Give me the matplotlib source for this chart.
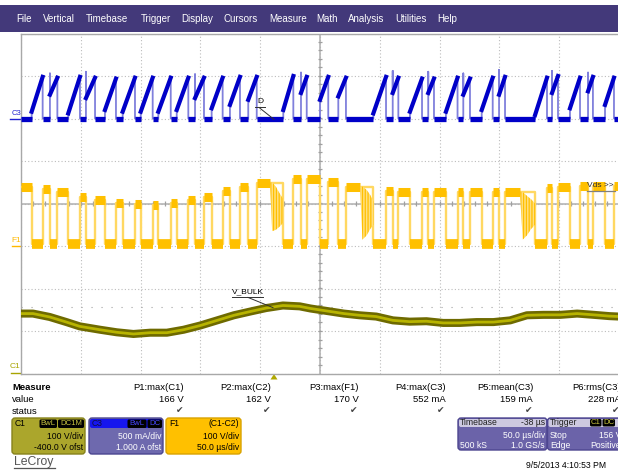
import matplotlib.pyplot as plt
from matplotlib.patches import FancyBboxPatch, Rectangle, Polygon
import numpy as np

plt.rcParams['font.family'] = ['Liberation Sans', 'DejaVu Sans']
plt.rcParams['hatch.linewidth'] = 0.9

# channel settings
c1_vdiv, c1_ofst = 100.0, -400.0     # V/div, V
c3_idiv, c3_ofst = 0.5, 1.0          # A/div, A
f1_vdiv, f1_ofst = 100.0, -100.0     # F1 zero sits one div under centre
tdiv = 50.0                          # us/div
trig_level = 156.0                   # V on C1

# switching pulses, us from left edge of screen
t_on = [8.9, 24.2, 39.5, 54.3, 70.2, 85.0, 100.1, 114.8, 130.2, 145.5,
        159.4, 174.7, 190.0, 219.3, 234.1, 250.0, 265.3, 294.6, 310.8, 325.2,
        340.5, 355.3, 369.8, 385.2, 399.7, 429.8, 444.0, 459.0, 474.1, 488.3]
t_off = [18.1, 30.4, 49.3, 61.9, 79.4, 95.3, 110.1, 125.2, 139.9, 153.0,
         168.6, 183.1, 197.1, 227.7, 238.9, 256.9, 271.7, 305.2, 315.5, 335.3,
         345.3, 365.0, 375.4, 394.4, 404.7, 439.8, 449.0, 467.4, 478.2, 495.8]

# C3 primary current (A)
i_start = [0.08, 0.28, 0.06, 0.24, 0.10, 0.08, 0.08, 0.08, 0.10, 0.24,
           0.12, 0.16, 0.22, 0.10, 0.30, 0.22, 0.26, 0.06, 0.30, 0.08,
           0.30, 0.08, 0.28, 0.10, 0.28, 0.04, 0.30, 0.12, 0.32, 0.16]
i_peak = [0.49, 0.48, 0.49, 0.48, 0.47, 0.48, 0.48, 0.48, 0.48, 0.48,
          0.48, 0.49, 0.49, 0.50, 0.49, 0.49, 0.48, 0.49, 0.48, 0.47,
          0.47, 0.48, 0.47, 0.48, 0.49, 0.48, 0.50, 0.48, 0.49, 0.48]
i_spike = [0.08, 0.53, 0.06, 0.55, 0.10, 0.08, 0.08, 0.08, 0.10, 0.52,
           0.12, 0.16, 0.22, 0.10, 0.54, 0.22, 0.26, 0.06, 0.56, 0.08,
           0.55, 0.08, 0.53, 0.10, 0.57, 0.04, 0.56, 0.12, 0.54, 0.16]

# F1 (C1-C2) level in the off time before each pulse, last one after
f1_high = [140, 133, 126, 115, 108, 101, 99, 97, 101, 108, 116, 130, 140,
           149, 158, 158, 151, 140, 129, 128, 127, 127, 127, 127, 127, 127,
           136, 139, 141, 141, 141]
f1_low = 5

# ringing at the end of three off times (index of the off time, envelope)
ring_seg = [13, 17, 25]
ring_t = [[208.2, 210, 213, 216, 219.3],
          [283.4, 285.5, 289, 292, 294.6],
          [417.2, 419.5, 423, 426.5, 429.8]]
ring_hi = [[150, 150, 140, 125, 110],
           [140, 140, 132, 120, 105],
           [127, 127, 118, 110, 100]]
ring_lo = [[148, 35, 38, 45, 55],
           [138, 15, 25, 40, 50],
           [125, 15, 25, 40, 50]]

# C1 bulk voltage (V_BULK)
bulk_t = [0, 10, 24, 38, 49, 66, 80, 94, 108, 122, 136, 150, 164, 178, 192,
          205, 219, 233, 242, 256, 270, 283, 297, 311, 325, 339, 353, 367,
          381, 395, 409, 423, 437, 451, 465, 479, 492, 500]
bulk_v = [141, 141, 133, 121, 111, 103, 97, 93, 96, 96, 103, 113, 125, 137,
          146, 154, 160, 158, 153, 147, 141, 137, 134, 125, 122, 123, 119,
          119, 121, 121, 125, 137, 138, 138, 141, 138, 135, 134]

menu_items = ['File', 'Vertical', 'Timebase', 'Trigger', 'Display', 'Cursors',
              'Measure', 'Math', 'Analysis', 'Utilities', 'Help']
menu_x = [16, 43, 86, 141, 181.5, 223.5, 269.5, 316, 348, 395, 437]

meas_names = ['P1:max(C1)', 'P2:max(C2)', 'P3:max(F1)', 'P4:max(C3)',
              'P5:mean(C3)', 'P6:rms(C3)']
meas_vals = ['166 V', '162 V', '170 V', '552 mA', '159 mA', '228 mA']


def c1_div(v):
    return (np.asarray(v, float) + c1_ofst) / c1_vdiv


def c3_div(i):
    return (np.asarray(i, float) + c3_ofst) / c3_idiv


def f1_div(v):
    return (np.asarray(v, float) + f1_ofst) / f1_vdiv


W, H = 618, 470
fig = plt.figure(figsize=(W / 100, H / 100), dpi=100)
fig.patch.set_facecolor('white')

# full-figure pixel axes for the scope chrome
ui = fig.add_axes([0, 0, 1, 1])
ui.set_xlim(0, W)
ui.set_ylim(H, 0)
ui.axis('off')

# graticule
gx0, gx1, gy0, gy1 = 21, 619, 33.5, 373.5
ax = fig.add_axes([gx0 / W, 1 - gy1 / H, (gx1 - gx0) / W, (gy1 - gy0) / H])
ax.set_zorder(2)
ax.set_xlim(0, 10 * tdiv)
ax.set_ylim(-4, 4)
ax.set_xticks(np.arange(0, 10 * tdiv + 1, tdiv))
ax.set_yticks(range(-4, 5))
ax.tick_params(length=0, labelbottom=False, labelleft=False)
ax.grid(True, color='#bcbcbc', ls=(0, (1, 2)), lw=0.8)
for s in ax.spines.values():
    s.set_color('#a8a8a8')
    s.set_linewidth(1)
ax.axhline(0, color='#b0b0b0', lw=1.1)
ax.axvline(5 * tdiv, color='#b0b0b0', lw=1.1)
ax.vlines(np.arange(10, 500, 10), -0.05, 0.05, color='#a0a0a0', lw=0.9)
ax.hlines(np.arange(-3.8, 3.9, 0.2), 248.3, 251.7, color='#a0a0a0', lw=0.9)
ax.axhline(c1_div(trig_level), color='#a0a0a0', lw=0.8, ls=(0, (1, 8)))

# C3 current
xs, ys = [0], [0]
for a, b, i0, i1, sp in zip(t_on, t_off, i_start, i_peak, i_spike):
    xs += [a, a, a, b, b]
    ys += [0, sp, i0, i1, 0]
xs.append(500)
ys.append(0)
ax.plot(xs, c3_div(ys), color='#8080dc', lw=1.3, zorder=3)
prev = 0
for a, b in zip(t_on, t_off):
    ax.plot([prev, a], c3_div([0, 0]), color='#0000c8', lw=3.8,
            solid_capstyle='butt', zorder=4)
    prev = b
ax.plot([prev, 500], c3_div([0, 0]), color='#0000c8', lw=3.8,
        solid_capstyle='butt', zorder=4)
for a, b, i0, i1 in zip(t_on, t_off, i_start, i_peak):
    ax.plot([a, b], c3_div([i0, i1]), color='#0000c8', lw=3.0, zorder=4)

# F1 = C1 - C2
seg_start = [0] + t_off
seg_end = t_on + [500]
ring_of = dict(zip(ring_seg, range(len(ring_seg))))
xs, ys = [], []
for k, (a, b) in enumerate(zip(seg_start, seg_end)):
    xs += [a, b]
    ys += [f1_high[k], f1_high[k]]
    if k < len(t_on):
        xs += [t_on[k], t_off[k]]
        ys += [f1_low, f1_low]
ax.plot(xs, f1_div(ys), color='#ffd862', lw=1.7, zorder=3)
for k, (a, b) in enumerate(zip(seg_start, seg_end)):
    end = ring_t[ring_of[k]][0] if k in ring_of else b
    ax.plot([a, end], f1_div([f1_high[k]] * 2), color='#ffc000', lw=6.5,
            solid_capstyle='butt', zorder=4)
for a, b in zip(t_on, t_off):
    ax.plot([a, b], f1_div([f1_low] * 2), color='#ffc000', lw=7,
            solid_capstyle='butt', zorder=4)
for rt, rh, rl in zip(ring_t, ring_hi, ring_lo):
    ax.fill_between(rt, f1_div(rl), f1_div(rh), facecolor='#ffe080',
                    edgecolor='#ffbf00', hatch='||||||', lw=0, zorder=4)

# C1 bulk voltage
ax.plot(bulk_t, c1_div(bulk_v), color='#6e6a00', lw=5.8, zorder=4,
        solid_capstyle='butt')
ax.plot(bulk_t, c1_div(bulk_v), color='#b8b400', lw=2.0, zorder=5)

# trace labels inside the graticule
ax.text(199.8, 2.40, 'D', fontsize=6, ha='center', va='center', zorder=6)
ax.plot([195.5, 204], [2.26, 2.26], color='#303030', lw=0.7, zorder=6)
ax.plot([199, 211.5], [2.26, 1.98], color='#303030', lw=0.7, zorder=6)
ax.text(189.4, -2.08, 'V_BULK', fontsize=6, ha='center', va='center', zorder=6)
ax.plot([176.4, 202.3], [-2.20, -2.20], color='#303030', lw=0.7, zorder=6)
ax.plot([189.8, 210.7], [-2.21, -2.45], color='#303030', lw=0.7, zorder=6)
ax.text(473.5, 0.42, 'Vds >>', fontsize=6, ha='left', va='center',
        color='#303030', zorder=6)
ax.plot([473.5, 497], [0.29, 0.29], color='#808080', lw=0.9, zorder=6)

# menu bar
ui.add_patch(Rectangle((0, 5), W, 27, fc='#43397a', ec='none'))
for name, x in zip(menu_items, menu_x):
    ui.text(x, 18.5, name, color='white', fontsize=7, ha='left', va='center')

# channel ground markers on the left
ui.text(16, 113.5, 'C3', color='#2020d0', fontsize=5.5, ha='center', va='center')
ui.plot([10, 21], [119, 119], color='#2020d0', lw=1)
ui.text(16.5, 240, 'F1', color='#ffb800', fontsize=6, ha='center', va='center')
ui.plot([12, 21], [245.5, 245.5], color='#ffb800', lw=1)
ui.text(15.5, 367, 'C1', color='#a8a400', fontsize=6, ha='center', va='center')
ui.plot([11, 21], [373, 373], color='#a8a400', lw=1)
ui.add_patch(Polygon([[270.5, 379.5], [277.5, 379.5], [274, 374]],
                     closed=True, fc='#b0a800', ec='none'))

# measurement table (last column runs off the screen, as on the scope)
ui.text(12, 387, 'Measure', fontsize=6.8, fontweight='bold', va='center')
ui.text(12, 399, 'value', fontsize=6.8, va='center')
ui.text(12, 411, 'status', fontsize=6.8, va='center')
for k, (nm, val) in enumerate(zip(meas_names, meas_vals)):
    xr = 184 + 87.3 * k
    ui.text(xr, 387, nm, fontsize=6.8, ha='right', va='center')
    ui.text(xr, 399, val, fontsize=6.8, ha='right', va='center')
    ui.text(xr - 1, 411, '\u2714', fontsize=6.5, ha='right', va='center',
            color='#444444')


def panel(x0, x1, y0, y1, body, border, head=None, head_h=8.5):
    ui.add_patch(FancyBboxPatch((x0, y0), x1 - x0, y1 - y0,
                                boxstyle='round,pad=0,rounding_size=3',
                                fc=body, ec=border, lw=1))
    if head:
        ui.add_patch(FancyBboxPatch((x0 + 1, y0 + 1), x1 - x0 - 2, head_h,
                                    boxstyle='round,pad=0,rounding_size=2',
                                    fc=head, ec='none'))


def tag(x0, x1, text, color, y0=419.5, y1=428):
    ui.add_patch(FancyBboxPatch((x0, y0), x1 - x0, y1 - y0,
                                boxstyle='round,pad=0,rounding_size=1.5',
                                fc='black', ec='none'))
    ui.text((x0 + x1) / 2, (y0 + y1) / 2, text, color=color, fontsize=5.6,
            ha='center', va='center')


fs = 6.2
# C1
panel(12, 85, 418, 454, '#aba62c', '#86821c')
ui.text(15, 423.5, 'C1', fontsize=fs, va='center')
tag(39.5, 57, 'BwL', '#c8c440')
tag(58, 84, 'DC1M', '#c8c440')
ui.text(83, 436.5, '100 V/div', fontsize=fs, ha='right', va='center')
ui.text(83, 447.5, '-400.0 V ofst', fontsize=fs, ha='right', va='center')
# C3
panel(89, 163, 418, 454, '#6e69ae', '#4b4690', head='#1616ee', head_h=9)
ui.text(92, 423.5, 'C3', fontsize=fs, va='center', color='#101040')
tag(127.5, 146.5, 'BwL', '#4848ff')
tag(147.5, 162, 'DC', '#4848ff')
ui.text(161, 436.5, '500 mA/div', fontsize=fs, ha='right', va='center', color='white')
ui.text(161, 447.5, '1.000 A ofst', fontsize=fs, ha='right', va='center', color='white')
# F1
panel(166, 241, 418, 454, '#ffc000', '#d9a200')
ui.text(169, 423.5, 'F1', fontsize=fs, va='center')
ui.text(239.5, 423.5, '(C1-C2)', fontsize=fs, ha='right', va='center')
ui.text(239.5, 436.5, '100 V/div', fontsize=fs, ha='right', va='center')
ui.text(239.5, 447.5, '50.0 \u00b5s/div', fontsize=fs, ha='right', va='center')
# Timebase
panel(458, 547, 418, 450, '#6b63a9', '#4d4690', head='#cdc9e0', head_h=8)
ui.text(460, 422.5, 'Timebase', fontsize=fs, va='center', color='#202020')
ui.text(545, 422.5, '-38 \u00b5s', fontsize=fs, ha='right', va='center', color='#202020')
ui.text(545, 435.5, '50.0 \u00b5s/div', fontsize=fs, ha='right', va='center', color='white')
ui.text(460, 445.5, '500 kS', fontsize=fs, va='center', color='white')
ui.text(545, 445.5, '1.0 GS/s', fontsize=fs, ha='right', va='center', color='white')
# Trigger
panel(547.5, 640, 418, 450, '#6b63a9', '#4d4690', head='#cdc9e0', head_h=8)
ui.text(550, 422.5, 'Trigger', fontsize=fs, va='center', color='#202020')
tag(590, 601.5, 'C1', '#c8c440', y0=419, y1=426.5)
tag(602.5, 615, 'DC', '#c8c440', y0=419, y1=426.5)
ui.text(550, 435.5, 'Stop', fontsize=fs, va='center', color='white')
ui.text(621, 435.5, '156 V', fontsize=fs, ha='right', va='center', color='white')
ui.text(550, 445.5, 'Edge', fontsize=fs, va='center', color='white')
ui.text(621, 445.5, 'Positive', fontsize=fs, ha='right', va='center', color='white')

# logo and time stamp
ui.text(14, 462, 'LeCroy', fontsize=8.8, color='#555555', va='center')
ui.plot([14, 55], [468, 468], color='#555555', lw=0.9)
ui.text(566, 465.5, '9/5/2013 4:10:53 PM', fontsize=6.2, ha='center', va='center')

fig.savefig('out.png', dpi=100)
